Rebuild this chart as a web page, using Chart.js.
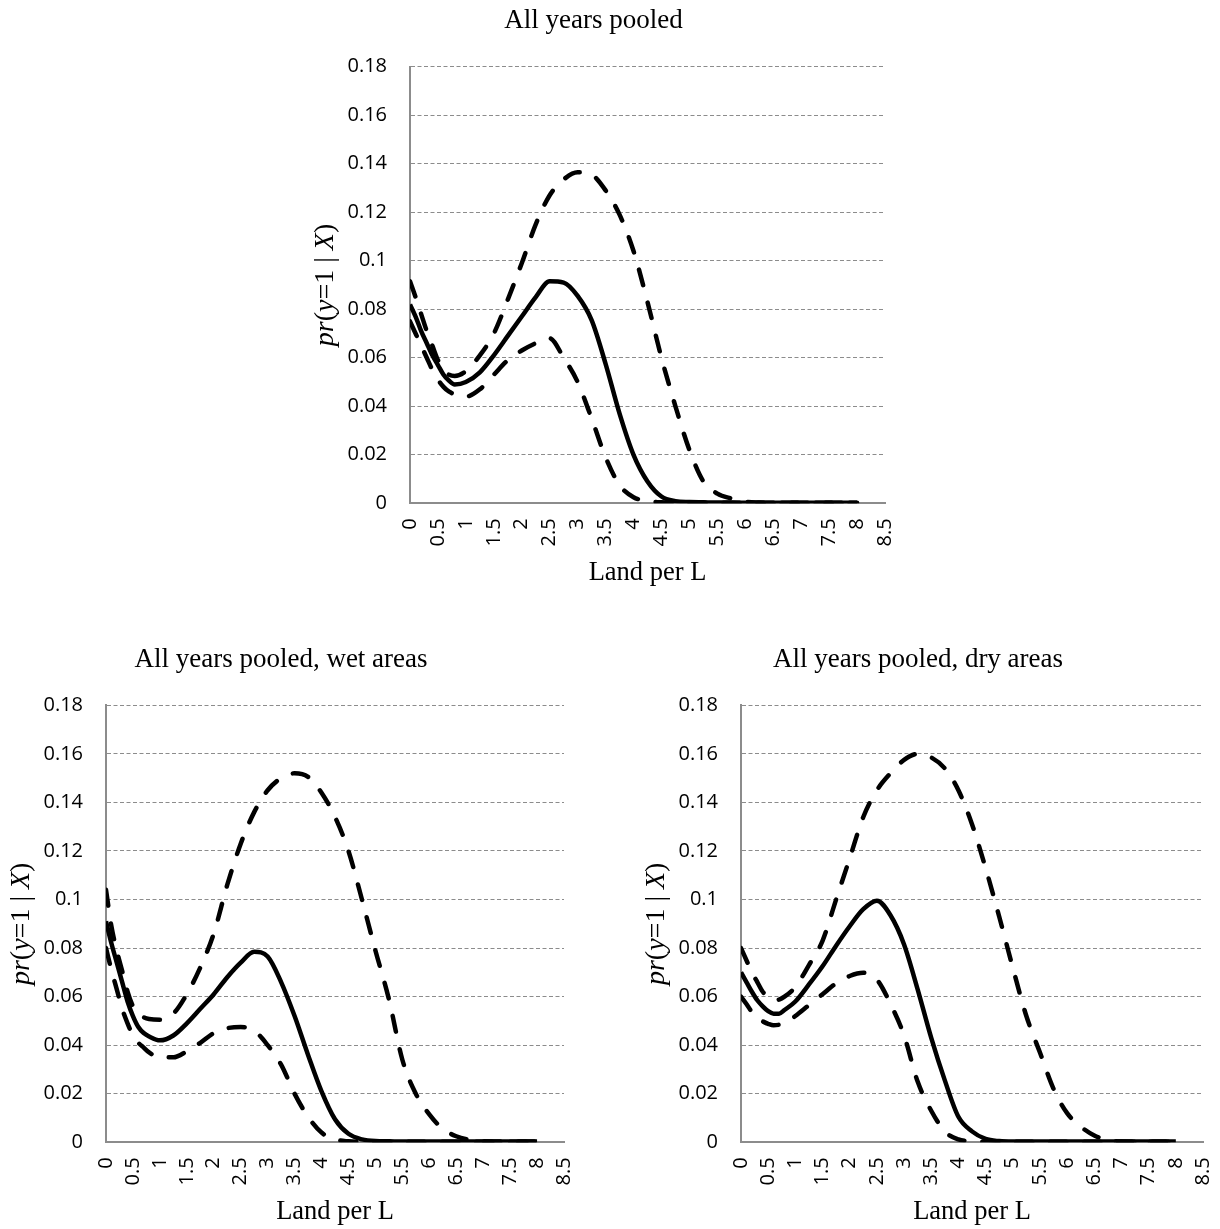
<!DOCTYPE html>
<html>
<head>
<meta charset="utf-8">
<script src="https://cdn.jsdelivr.net/npm/chart.js@4.4.1/dist/chart.umd.min.js"></script>
<style>
  html, body { margin: 0; padding: 0; background: #fff; overflow: hidden; }
  body { width: 1220px; height: 1229px; position: relative; }
  .box { position: absolute; }
</style>
</head>
<body>
<div class="box" style="left:260px;top:0px;"><canvas id="chart-pooled" width="660" height="610"></canvas></div>
<div class="box" style="left:0px;top:640px;"><canvas id="chart-wet" width="600" height="589"></canvas></div>
<div class="box" style="left:620px;top:640px;"><canvas id="chart-dry" width="600" height="589"></canvas></div>
<script>
/* ── Data ───────────────────────────────────────────────────────── */
const landX = [0, 0.1, 0.2, 0.3, 0.4, 0.5, 0.6, 0.7, 0.8, 1.0, 1.25, 1.5, 1.75, 2.0, 2.25, 2.5,
               2.75, 3.0, 3.25, 3.5, 3.75, 4.0, 4.25, 4.5, 4.75, 5.0, 5.25, 5.5, 5.75, 6.0,
               6.25, 6.5, 6.75, 7.0, 7.5, 8.0];

const xTickLabels = ['0', '0.5', '1', '1.5', '2', '2.5', '3', '3.5', '4', '4.5',
                     '5', '5.5', '6', '6.5', '7', '7.5', '8', '8.5'];
const yTickLabels = ['0', '0.02', '0.04', '0.06', '0.08', '0.1', '0.12', '0.14', '0.16', '0.18'];

const chartTitles = ['All years pooled', 'All years pooled, wet areas', 'All years pooled, dry areas'];

// all years pooled
const pooledMid   = [0.082, 0.077, 0.071, 0.066, 0.061, 0.057, 0.053, 0.0505, 0.049, 0.050, 0.054, 0.061,
                     0.069, 0.077, 0.085, 0.0915, 0.091, 0.0855, 0.0755, 0.0575, 0.037, 0.020, 0.009, 0.0028,
                     0.0009, 0.0005, 0.0004, 0.0003, 0.0003, 0.0002, 0.0002, 0.0002, 0.0002, 0.0002, 0.0002, 0.0002];
const pooledUpper = [0.0915, 0.085, 0.078, 0.071, 0.065, 0.059, 0.055, 0.053, 0.0525, 0.0545, 0.061, 0.070,
                     0.084, 0.099, 0.115, 0.127, 0.1335, 0.1365, 0.1355, 0.129, 0.119, 0.104, 0.083, 0.060,
                     0.040, 0.022, 0.009, 0.004, 0.002, 0.0007, 0.0003, 0.0002, 0.0002, 0.0002, 0.0002, 0.0002];
const pooledLower = [0.075, 0.070, 0.065, 0.060, 0.055, 0.051, 0.048, 0.046, 0.045, 0.044, 0.047, 0.053,
                     0.059, 0.063, 0.066, 0.068, 0.060, 0.050, 0.035, 0.019, 0.0075, 0.0025, 0.001, 0.0004,
                     0.0002, 0.0002, 0.0002, 0.0002, 0.0002, 0.0002, 0.0002, 0.0002, 0.0002, 0.0002, 0.0002, 0.0002];

// wet areas
const wetMid   = [0.091, 0.082, 0.074, 0.066, 0.058, 0.052, 0.0475, 0.045, 0.0436, 0.042, 0.044, 0.049,
                  0.055, 0.061, 0.068, 0.074, 0.0785, 0.0765, 0.066, 0.052, 0.036, 0.021, 0.0095, 0.0035,
                  0.0012, 0.0005, 0.0004, 0.0003, 0.0003, 0.0003, 0.0003, 0.0003, 0.0003, 0.0003, 0.0003, 0.0003];
const wetUpper = [0.104, 0.089, 0.079, 0.0706, 0.062, 0.056, 0.053, 0.0515, 0.0508, 0.0505, 0.053, 0.061,
                  0.072, 0.086, 0.106, 0.123, 0.136, 0.145, 0.150, 0.152, 0.1505, 0.144, 0.134, 0.120,
                  0.100, 0.079, 0.059, 0.034, 0.020, 0.0115, 0.0055, 0.0025, 0.001, 0.0004, 0.0003, 0.0003];
const wetLower = [0.080, 0.071, 0.063, 0.055, 0.049, 0.044, 0.041, 0.039, 0.037, 0.035, 0.035, 0.0375,
                  0.041, 0.045, 0.047, 0.0475, 0.046, 0.040, 0.032, 0.020, 0.0105, 0.004, 0.0012, 0.0004,
                  0.0002, 0.0002, 0.0002, 0.0002, 0.0002, 0.0002, 0.0002, 0.0002, 0.0002, 0.0002, 0.0002, 0.0002];

// dry areas
const dryMid   = [0.070, 0.066, 0.062, 0.0585, 0.056, 0.054, 0.053, 0.053, 0.0545, 0.058, 0.065, 0.0725,
                  0.081, 0.089, 0.096, 0.0995, 0.0935, 0.0815, 0.063, 0.043, 0.0255, 0.0105, 0.0045, 0.0014,
                  0.0005, 0.0003, 0.0003, 0.0003, 0.0003, 0.0003, 0.0003, 0.0003, 0.0003, 0.0003, 0.0003, 0.0003];
const dryUpper = [0.080, 0.075, 0.070, 0.066, 0.062, 0.060, 0.0585, 0.0588, 0.060, 0.064, 0.073, 0.083,
                  0.100, 0.117, 0.134, 0.145, 0.152, 0.1575, 0.160, 0.1585, 0.154, 0.145, 0.131, 0.113,
                  0.093, 0.072, 0.052, 0.037, 0.022, 0.012, 0.0065, 0.0028, 0.001, 0.0003, 0.0002, 0.0002];
const dryLower = [0.060, 0.057, 0.0536, 0.051, 0.0498, 0.0488, 0.0482, 0.0484, 0.049, 0.052, 0.0565, 0.061,
                  0.0655, 0.0685, 0.0698, 0.067, 0.057, 0.044, 0.025, 0.013, 0.0045, 0.0012, 0.0004, 0.0002,
                  0.0002, 0.0002, 0.0002, 0.0002, 0.0002, 0.0002, 0.0002, 0.0002, 0.0002, 0.0002, 0.0002, 0.0002];

/* ── Style helpers ──────────────────────────────────────────────── */
const SERIF = '"Liberation Serif", "Times New Roman", serif';
const SANS  = '"Open Sans", "Noto Sans", sans-serif';
const GRID  = '#8c8c8c';

function pts(ys) {
  return landX.map((x, i) => ({ x, y: ys[i] }));
}

function lineSet(label, ys, dashed) {
  return {
    label,
    data: pts(ys),
    borderColor: '#000',
    borderWidth: 4.5,
    borderDash: dashed ? [16, 18] : [],
    borderCapStyle: dashed ? 'round' : 'butt',
    pointRadius: 0,
    fill: false,
    cubicInterpolationMode: 'monotone',
  };
}

/* titles, y title with italic parts, x title */
function textPlugin(title) {
  return {
    id: 'texts',
    afterDraw(chart) {
      const { ctx, chartArea: a } = chart;
      const midX = (a.left + a.right) / 2;
      const midY = (a.top + a.bottom) / 2;
      ctx.save();
      ctx.fillStyle = '#000';
      ctx.textBaseline = 'alphabetic';
      ctx.textAlign = 'center';
      ctx.font = '27px ' + SERIF;
      ctx.fillText(title, midX - 54, a.top - 38.5);
      ctx.font = '26.5px ' + SERIF;
      ctx.fillText('Land per L', midX, a.bottom + 77);

      const parts = [['pr', true], ['(', false], ['y', true], ['=1 | ', false], ['X', true], [')', false]];
      const fontOf = it => (it ? 'italic ' : '') + '28px ' + SERIF;
      let total = 0;
      parts.forEach(([t, it]) => { ctx.font = fontOf(it); total += ctx.measureText(t).width; });
      ctx.translate(a.left - 77, midY);
      ctx.rotate(-Math.PI / 2);
      ctx.textAlign = 'left';
      let x = -total / 2;
      parts.forEach(([t, it]) => {
        ctx.font = fontOf(it);
        ctx.fillText(t, x, 0);
        x += ctx.measureText(t).width;
      });
      ctx.restore();
    },
  };
}

function makeChart(id, title, mid, upper, lower, pad) {
  return new Chart(document.getElementById(id), {
    type: 'line',
    data: {
      datasets: [
        lineSet('Estimate', mid, false),
        lineSet('Upper', upper, true),
        lineSet('Lower', lower, true),
      ],
    },
    options: {
      responsive: false,
      animation: false,
      layout: { padding: pad },
      plugins: { legend: { display: false }, tooltip: { enabled: false }, title: { display: false } },
      scales: {
        x: {
          type: 'linear',
          min: 0,
          max: 8.5,
          afterFit(s) { s.height = 60; s.paddingLeft = 0; s.paddingRight = 0; },
          grid: { display: true, color: 'rgba(0,0,0,0)', drawTicks: false },
          border: { display: true, color: GRID, width: 2 },
          ticks: {
            stepSize: 0.5,
            autoSkip: false,
            minRotation: 90,
            maxRotation: 90,
            padding: 15,
            color: '#000',
            font: { family: SANS, size: 20 },
            callback: (v, i) => xTickLabels[i] ?? String(v),
          },
        },
        y: {
          min: 0,
          max: 0.18,
          afterFit(s) { s.width = 100; s.paddingTop = 0; s.paddingBottom = 0; },
          grid: { color: GRID, lineWidth: 1, drawTicks: false },
          border: { display: true, color: GRID, width: 2, dash: [4, 2.5] },
          ticks: {
            stepSize: 0.02,
            padding: 23,
            color: '#000',
            font: { family: SANS, size: 20 },
            callback: (v, i) => yTickLabels[i] ?? String(v),
          },
        },
      },
    },
    plugins: [textPlugin(title)],
  });
}

makeChart('chart-pooled', chartTitles[0], pooledMid, pooledUpper, pooledLower,
  { left: 50, right: 35, top: 66.7, bottom: 46.7 });
makeChart('chart-wet', chartTitles[1], wetMid, wetUpper, wetLower,
  { left: 6, right: 36, top: 65.3, bottom: 26.7 });
makeChart('chart-dry', chartTitles[2], dryMid, dryUpper, dryLower,
  { left: 21, right: 17, top: 65.3, bottom: 26.7 });
</script>
</body>
</html>
